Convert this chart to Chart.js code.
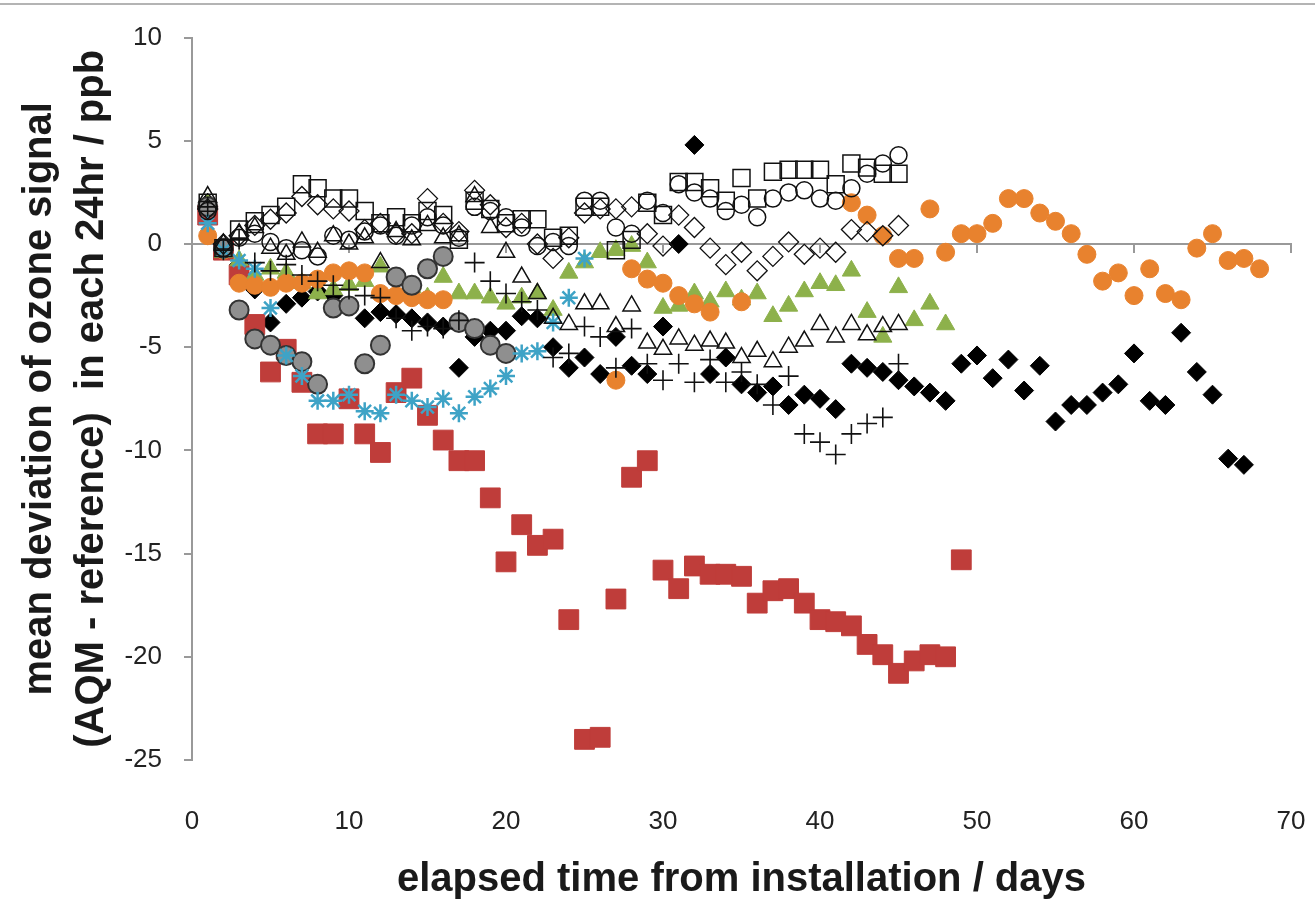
<!DOCTYPE html>
<html lang="en">
<head>
    <meta charset="UTF-8">
    <title>Ozone signal deviation</title>
    <script src="https://cdn.jsdelivr.net/npm/chart.js"></script>
    <style>
        body { margin: 0; background: #fff; }
        #topLine { position: absolute; left: 0; top: 3px; width: 1315px; height: 2px; background: #b4b4b4; }
        #wrap { position: absolute; left: 0; top: 0; width: 1315px; height: 921px; }
    </style>
</head>
<body>

<div id="topLine"></div>
<div id="wrap"><canvas id="ozoneChart" width="1315" height="921"></canvas></div>

<script>
    // values per day, first entry = day 1 (null = no point that day)
    const openSquares = [2.0, -0.2, 0.7, 1.1, 1.4, 1.8, 2.9, 2.7, 2.2, 2.2, 1.6, 1.0, 1.3, 1.0, 1.6, 1.4, 0.2, 2.1, 1.7, 1.0,
        1.2, 1.2, 0.3, 0.4, 1.8, 1.8, -0.3, 0.2, 2.0, 1.4, 3.0, 3.0, 2.7, 2.1, 3.2, 2.2, 3.5, 3.6, 3.6, 3.6,
        2.9, 3.9, 3.7, 3.4, 3.4];
    const openCircles = [1.6, -0.2, 0.3, 0.5, 0.1, -0.2, -0.3, -0.6, 0.4, 0.2, 0.6, 0.9, 0.4, 0.9, 1.3, 0.9, 0.3, 1.8, 1.6, 1.3,
        0.8, -0.1, 0.1, -0.1, 2.1, 2.1, 0.8, 0.5, 2.1, 1.5, 2.9, 2.5, 2.2, 1.6, 1.9, 1.3, 2.2, 2.5, 2.6, 2.2,
        2.1, 2.7, 3.4, 3.9, 4.3];
    const openDiamonds = [1.7, 0.0, 0.4, 0.9, 1.2, 1.5, 2.3, 1.9, 1.7, 1.6, 0.7, 1.0, 0.5, 0.5, 2.2, 1.0, 0.6, 2.6, 1.9, 0.8,
        1.0, 0.0, -0.7, 0.3, 1.5, 1.7, 1.7, 1.8, 0.5, -0.1, 1.4, 0.8, -0.2, -1.0, -0.4, -1.3, -0.6, 0.1, -0.5, -0.2,
        -0.4, 0.7, 0.6, 0.4, 0.9];
    const openTriangles = [2.3, 0.0, 0.5, 0.8, -0.2, -0.5, 0.1, -0.4, 0.4, 0.0, 0.3, -0.9, 0.6, 0.2, 0.9, 0.3, 0.4, 2.3, 0.8, -0.4,
        -1.6, -2.4, -3.6, -3.9, -2.9, -2.9, -4.0, -3.0, -4.8, -5.1, -4.6, -4.9, -4.7, -4.8, -5.5, -5.2, -5.7, -5.0, -4.7, -3.9,
        -4.5, -3.9, -4.4, -4.0, -3.9];
    const plusSigns = [1.8, -0.3, 0.2, -0.9, -1.3, -1.0, -1.5, -1.8, -2.0, -2.2, -2.5, -2.6, -3.6, -4.2, -4.0, -4.1, -3.7, -0.9, -1.8, -2.4,
        -2.8, -3.2, -5.5, -5.3, -4.0, -4.5, -6.0, -4.1, -5.8, -6.6, -5.8, -6.7, -5.6, -6.7, -6.2, -6.8, -7.8, -6.4, -9.2, -9.6,
        -10.2, -9.2, -8.7, -8.4, -5.8];
    const cyanStars = [1.0, -0.3, -0.8, -1.2, -3.1, -5.4, -6.4, -7.6, -7.6, -7.3, -8.1, -8.2, -7.3, -7.6, -7.9, -7.5, -8.2, -7.4, -7.0, -6.4,
        -5.3, -5.2, -3.8, -2.6, -0.7];
    const grayCircles = [1.8, -0.2, -3.2, -4.6, -4.9, -5.4, -5.7, -6.8, -3.1, -3.0, -5.8, -4.9, -1.6, -2.0, -1.2, -0.6, -3.8, -4.1, -4.9, -5.3];
    const orangeCircles = [0.4, -0.3, -1.9, -2.0, -2.1, -1.9, -1.9, -1.7, -1.4, -1.3, -1.4, -2.4, -2.5, -2.6, -2.7, -2.7, null, null, null, null,
        null, null, null, null, null, null, -6.6, -1.2, -1.7, -1.9, -2.5, -2.9, -3.3, null, -2.8, null, null, null, null, null,
        null, 2.0, 1.4, 0.4, -0.7, -0.7, 1.7, -0.4, 0.5, 0.5, 1.0, 2.2, 2.2, 1.5, 1.1, 0.5, -0.5, -1.8, -1.4, -2.5,
        -1.2, -2.4, -2.7, -0.2, 0.5, -0.8, -0.7, -1.2];
    const greenTriangles = [1.9, -0.4, -0.8, -1.5, -1.2, -1.4, -1.9, -2.4, -2.2, -2.0, -1.8, -1.1, -2.4, -2.1, -2.6, -1.6, -2.4, -2.4, -2.6, -2.9,
        -2.6, -2.4, -3.2, -1.4, -0.9, -0.4, -0.3, -0.1, -0.9, -3.1, -3.0, -2.4, -2.8, -2.3, -2.7, -2.4, -3.5, -3.0, -2.3, -1.9,
        -2.0, -1.3, -3.3, -4.5, -2.1, -3.7, -2.9, -3.9];
    const redSquares = [1.4, -0.3, -1.5, -3.9, -6.2, -5.1, -6.7, -9.2, -9.2, -7.5, -9.2, -10.1, -7.2, -6.5, -8.3, -9.5, -10.5, -10.5, -12.3, -15.4,
        -13.6, -14.6, -14.3, -18.2, -24.0, -23.9, -17.2, -11.3, -10.5, -15.8, -16.7, -15.6, -16.0, -16.0, -16.1, -17.4, -16.8, -16.7, -17.4, -18.2,
        -18.3, -18.5, -19.4, -19.9, -20.8, -20.2, -19.9, -20.0, -15.3];
    const blackDiamonds = [2.0, -0.2, -1.0, -2.2, -3.8, -2.9, -2.6, -2.3, -2.5, -3.0, -3.6, -3.3, -3.4, -3.6, -3.8, -4.0, -6.0, -4.5, -4.2, -4.2,
        -3.5, -3.6, -5.0, -6.0, -5.5, -6.3, -4.5, -5.9, -6.3, -4.0, 0.0, 4.8, -6.3, -5.5, -6.8, -7.2, -6.9, -7.8, -7.3, -7.5,
        -8.0, -5.8, -6.0, -6.2, -6.6, -6.9, -7.2, -7.6, -5.8, -5.4, -6.5, -5.6, -7.1, -5.9, -8.6, -7.8, -7.8, -7.2, -6.8, -5.3,
        -7.6, -7.8, -4.3, -6.2, -7.3, -10.4, -10.7];

    const xTicks = [0, 10, 20, 30, 40, 50, 60, 70];
    const yTicks = [-25, -20, -15, -10, -5, 0, 5, 10];

    // turn a per-day list into scatter points
    function toPoints(values) {
        return values
            .map((v, i) => ({ x: i + 1, y: v }))
            .filter(p => p.y !== null);
    }

    function series(values, style, radius, fill, border, borderWidth) {
        return {
            data: toPoints(values),
            pointStyle: style,
            pointRadius: radius,
            pointHoverRadius: radius,
            backgroundColor: fill,
            borderColor: border,
            borderWidth: borderWidth,
            showLine: false
        };
    }

    const none = 'rgba(0,0,0,0)';
    // first dataset is drawn on top
    const datasets = [
        series(openSquares, 'rect', 12, none, '#111', 1.5),
        series(openCircles, 'circle', 8.5, none, '#111', 1.5),
        series(openDiamonds, 'rectRot', 10, none, '#111', 1.3),
        series(openTriangles, 'triangle', 10, none, '#111', 1.5),
        series(plusSigns, 'cross', 10, none, '#111', 1.6),
        series(cyanStars, 'star', 9, none, '#3ea3c6', 2.5),
        series(grayCircles, 'circle', 9.5, '#8f8f8f', '#333', 2),
        series(orangeCircles, 'circle', 9, '#e8822e', '#e8822e', 1),
        series(greenTriangles, 'triangle', 10.5, '#8db14b', '#8db14b', 1),
        series(redSquares, 'rect', 14, '#bf3d3a', '#bf3d3a', 1),
        series(blackDiamonds, 'rectRot', 9.5, '#000', '#000', 1)
    ];

    const tickFont = { family: 'Liberation Sans', size: 26 };
    const titleFont = { family: 'Liberation Sans', size: 40, weight: 'bold', lineHeight: 1.3 };

    new Chart(document.getElementById('ozoneChart'), {
        type: 'scatter',
        data: { datasets: datasets },
        options: {
            responsive: false,
            animation: false,
            layout: { padding: { top: 37, right: 24, left: 0, bottom: 0 } },
            plugins: { legend: { display: false }, tooltip: { enabled: false } },
            scales: {
                x: {
                    type: 'linear',
                    position: 'bottom',
                    min: 0, max: 70,
                    afterBuildTicks: s => { s.ticks = xTicks.map(v => ({ value: v })); },
                    // fixed height, and no extra side room for the end labels
                    afterFit: s => { s.height = 161; s.paddingLeft = 0; s.paddingRight = 0; },
                    grid: { display: false },
                    border: { display: false },
                    ticks: { font: tickFont, color: '#222', padding: 38, maxRotation: 0 },
                    title: {
                        display: true,
                        text: 'elapsed time from installation / days',
                        font: titleFont, color: '#1a1a1a',
                        padding: { top: 0, bottom: 15 }
                    }
                },
                // zero line with its tick marks
                x2: {
                    type: 'linear',
                    position: { y: 0 },
                    min: 0, max: 70,
                    afterBuildTicks: s => { s.ticks = xTicks.map(v => ({ value: v })); },
                    grid: { drawOnChartArea: false, drawTicks: true, tickLength: 8, color: '#999', lineWidth: 2 },
                    border: { display: true, color: '#999', width: 2 },
                    ticks: { display: false }
                },
                y: {
                    type: 'linear',
                    min: -25, max: 10,
                    afterBuildTicks: s => { s.ticks = yTicks.map(v => ({ value: v })); },
                    afterFit: s => { s.width = 192; },
                    grid: { drawOnChartArea: false, drawTicks: true, tickLength: 8, color: '#999', lineWidth: 2 },
                    border: { display: true, color: '#999', width: 2 },
                    ticks: { font: tickFont, color: '#222', padding: 22 },
                    title: {
                        display: true,
                        text: ['mean deviation of ozone signal', '(AQM - reference)  in each 24hr / ppb'],
                        font: titleFont, color: '#1a1a1a',
                        padding: { top: 14, bottom: 0 }
                    }
                }
            }
        }
    });
</script>

</body>
</html>
